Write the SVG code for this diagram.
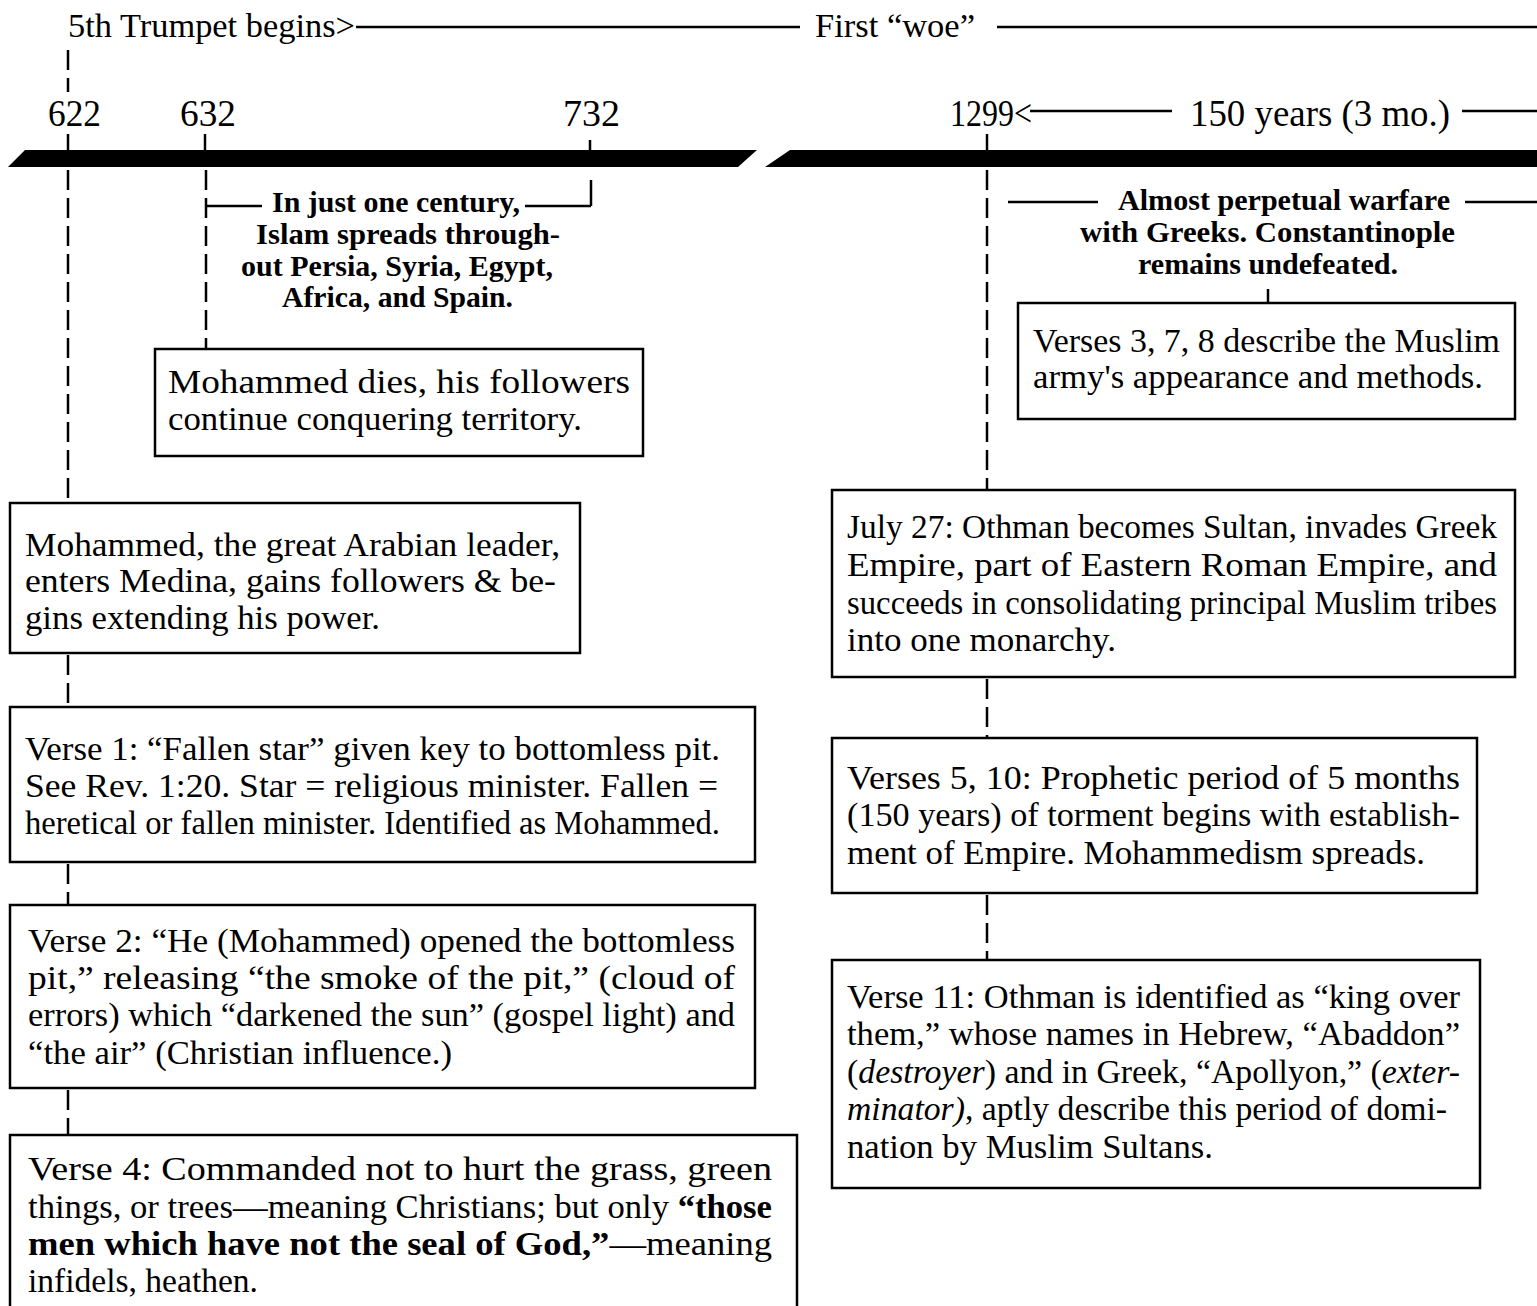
<svg xmlns="http://www.w3.org/2000/svg" width="1537" height="1306" viewBox="0 0 1537 1306">
<style>
text{font-family:"Liberation Serif","Times New Roman",serif;fill:#000}
.hd{font-size:34px}
.yr{font-size:38px}
.br{font-size:29px;font-weight:bold}
.bx{font-size:34px}
.box{fill:#fff;stroke:#000;stroke-width:2.5}
.ln{stroke:#000;stroke-width:2.5;fill:none}
.dl{stroke:#000;stroke-width:2.5;fill:none;stroke-dasharray:20 8}
</style>
<rect width="1537" height="1306" fill="#fff"/>
<g id="connectors">
<line class="ln" x1="356" y1="27" x2="800" y2="27"/>
<line class="ln" x1="997" y1="27" x2="1537" y2="27"/>
<line class="ln" x1="1030" y1="111" x2="1172" y2="111"/>
<line class="ln" x1="1462" y1="111" x2="1537" y2="111"/>
<line class="dl" x1="68" y1="50" x2="68" y2="92"/>
<line class="ln" x1="68" y1="134" x2="68" y2="150"/>
<line class="dl" x1="68" y1="170" x2="68" y2="503"/>
<line class="dl" x1="68" y1="655" x2="68" y2="707"/>
<line class="dl" x1="68" y1="864" x2="68" y2="905"/>
<line class="dl" x1="68" y1="1090" x2="68" y2="1135"/>
<line class="ln" x1="205" y1="134" x2="205" y2="150"/>
<line class="dl" x1="206" y1="170" x2="206" y2="349"/>
<line class="ln" x1="206" y1="206" x2="262" y2="206"/>
<line class="ln" x1="525" y1="206" x2="591" y2="206"/>
<line class="ln" x1="590" y1="140" x2="590" y2="150"/>
<line class="ln" x1="591" y1="180" x2="591" y2="206"/>
<line class="ln" x1="987" y1="134" x2="987" y2="150"/>
<line class="dl" x1="987" y1="170" x2="987" y2="490"/>
<line class="ln" x1="1008" y1="202" x2="1098" y2="202"/>
<line class="ln" x1="1465" y1="202" x2="1537" y2="202"/>
<line class="ln" x1="1268" y1="289" x2="1268" y2="303"/>
<line class="dl" x1="987" y1="679" x2="987" y2="738"/>
<line class="dl" x1="987" y1="895" x2="987" y2="960"/>
</g>
<g id="timeline">
<polygon points="25,150 757,150 738,167 8,167" fill="#000"/>
<polygon points="790,150 1537,150 1537,167 765,167" fill="#000"/>
</g>
<g id="header">
<text class="hd" x="68" y="37" textLength="287" lengthAdjust="spacingAndGlyphs">5th Trumpet begins&gt;</text>
<text class="hd" x="815" y="37" textLength="160" lengthAdjust="spacingAndGlyphs">First “woe”</text>
</g>
<g id="years">
<text class="yr" x="48" y="126" textLength="53" lengthAdjust="spacingAndGlyphs">622</text>
<text class="yr" x="180" y="126" textLength="56" lengthAdjust="spacingAndGlyphs">632</text>
<text class="yr" x="563" y="126" textLength="57" lengthAdjust="spacingAndGlyphs">732</text>
<text class="yr" x="950" y="126" textLength="82" lengthAdjust="spacingAndGlyphs">1299&lt;</text>
<text class="yr" x="1190" y="126" textLength="260" lengthAdjust="spacingAndGlyphs">150 years (3 mo.)</text>
</g>
<g id="century-note">
<text class="br" x="272" y="212" textLength="248" lengthAdjust="spacingAndGlyphs">In just one century,</text>
<text class="br" x="256" y="244" textLength="304" lengthAdjust="spacingAndGlyphs">Islam spreads through-</text>
<text class="br" x="241" y="276" textLength="312" lengthAdjust="spacingAndGlyphs">out Persia, Syria, Egypt,</text>
<text class="br" x="282" y="307" textLength="231" lengthAdjust="spacingAndGlyphs">Africa, and Spain.</text>
</g>
<g id="warfare-note">
<text class="br" x="1118" y="210" textLength="332" lengthAdjust="spacingAndGlyphs">Almost perpetual warfare</text>
<text class="br" x="1080" y="242" textLength="375" lengthAdjust="spacingAndGlyphs">with Greeks.  Constantinople</text>
<text class="br" x="1138" y="274" textLength="260" lengthAdjust="spacingAndGlyphs">remains undefeated.</text>
</g>
<g id="box-dies">
<rect class="box" x="155" y="349" width="488" height="107"/>
<text class="bx" x="168" y="393" textLength="462" lengthAdjust="spacingAndGlyphs">Mohammed dies, his followers</text>
<text class="bx" x="168" y="430" textLength="414" lengthAdjust="spacingAndGlyphs">continue conquering territory.</text>
</g>
<g id="box-verses378">
<rect class="box" x="1018" y="303" width="497" height="116"/>
<text class="bx" x="1033" y="352" textLength="467" lengthAdjust="spacingAndGlyphs">Verses 3, 7, 8 describe the Muslim</text>
<text class="bx" x="1033" y="388" textLength="450" lengthAdjust="spacingAndGlyphs">army's appearance and methods.</text>
</g>
<g id="box-medina">
<rect class="box" x="10" y="503" width="570" height="150"/>
<text class="bx" x="25" y="556" textLength="535" lengthAdjust="spacingAndGlyphs">Mohammed, the great Arabian leader,</text>
<text class="bx" x="25" y="592" textLength="531" lengthAdjust="spacingAndGlyphs">enters Medina, gains followers &amp; be-</text>
<text class="bx" x="25" y="629" textLength="355" lengthAdjust="spacingAndGlyphs">gins extending his power.</text>
</g>
<g id="box-verse1">
<rect class="box" x="10" y="707" width="745" height="155"/>
<text class="bx" x="25" y="760" textLength="695" lengthAdjust="spacingAndGlyphs">Verse 1:  “Fallen star” given key to bottomless pit.</text>
<text class="bx" x="25" y="797" textLength="693" lengthAdjust="spacingAndGlyphs">See Rev. 1:20.  Star  = religious minister.  Fallen =</text>
<text class="bx" x="25" y="834" textLength="695" lengthAdjust="spacingAndGlyphs">heretical or fallen minister. Identified as Mohammed.</text>
</g>
<g id="box-verse2">
<rect class="box" x="10" y="905" width="745" height="183"/>
<text class="bx" x="28" y="952" textLength="707" lengthAdjust="spacingAndGlyphs">Verse 2:  “He (Mohammed) opened the bottomless</text>
<text class="bx" x="28" y="989" textLength="707" lengthAdjust="spacingAndGlyphs">pit,” releasing “the smoke of the pit,”  (cloud of</text>
<text class="bx" x="28" y="1026" textLength="707" lengthAdjust="spacingAndGlyphs">errors) which “darkened the sun” (gospel light) and</text>
<text class="bx" x="28" y="1064" textLength="424" lengthAdjust="spacingAndGlyphs">“the air” (Christian influence.)</text>
</g>
<g id="box-verse4">
<path class="ln" d="M10,1320 V1135 H797 V1320"/>
<text class="bx" x="28" y="1180" textLength="744" lengthAdjust="spacingAndGlyphs">Verse 4:  Commanded not to hurt the grass, green</text>
<text class="bx" x="28" y="1218" textLength="744" lengthAdjust="spacingAndGlyphs">things, or trees—meaning Christians; but only <tspan font-weight="bold">“those</tspan></text>
<text class="bx" x="28" y="1255" textLength="744" lengthAdjust="spacingAndGlyphs"><tspan font-weight="bold">men which have not the seal of God,”</tspan>—meaning</text>
<text class="bx" x="28" y="1292" textLength="230" lengthAdjust="spacingAndGlyphs">infidels, heathen.</text>
</g>
<g id="box-july27">
<rect class="box" x="832" y="490" width="683" height="187"/>
<text class="bx" x="847" y="538" textLength="650" lengthAdjust="spacingAndGlyphs">July 27: Othman becomes Sultan, invades Greek</text>
<text class="bx" x="847" y="576" textLength="650" lengthAdjust="spacingAndGlyphs">Empire, part of Eastern Roman Empire, and</text>
<text class="bx" x="847" y="614" textLength="650" lengthAdjust="spacingAndGlyphs">succeeds in consolidating principal Muslim tribes</text>
<text class="bx" x="847" y="651" textLength="269" lengthAdjust="spacingAndGlyphs">into one monarchy.</text>
</g>
<g id="box-verses510">
<rect class="box" x="832" y="738" width="645" height="155"/>
<text class="bx" x="847" y="789" textLength="613" lengthAdjust="spacingAndGlyphs">Verses 5, 10:  Prophetic period of 5 months</text>
<text class="bx" x="847" y="826" textLength="613" lengthAdjust="spacingAndGlyphs">(150 years) of torment begins with establish-</text>
<text class="bx" x="847" y="864" textLength="578" lengthAdjust="spacingAndGlyphs">ment of Empire.  Mohammedism spreads.</text>
</g>
<g id="box-verse11">
<rect class="box" x="832" y="960" width="648" height="228"/>
<text class="bx" x="847" y="1008" textLength="613" lengthAdjust="spacingAndGlyphs">Verse 11:  Othman is identified as “king over</text>
<text class="bx" x="847" y="1045" textLength="613" lengthAdjust="spacingAndGlyphs">them,” whose names in Hebrew, “Abaddon”</text>
<text class="bx" x="847" y="1083" textLength="613" lengthAdjust="spacingAndGlyphs">(<tspan font-style="italic">destroyer</tspan>) and in Greek, “Apollyon,” (<tspan font-style="italic">exter-</tspan></text>
<text class="bx" x="847" y="1120" textLength="600" lengthAdjust="spacingAndGlyphs"><tspan font-style="italic">minator)</tspan>, aptly describe this period of domi-</text>
<text class="bx" x="847" y="1158" textLength="366" lengthAdjust="spacingAndGlyphs">nation by Muslim Sultans.</text>
</g>
</svg>
